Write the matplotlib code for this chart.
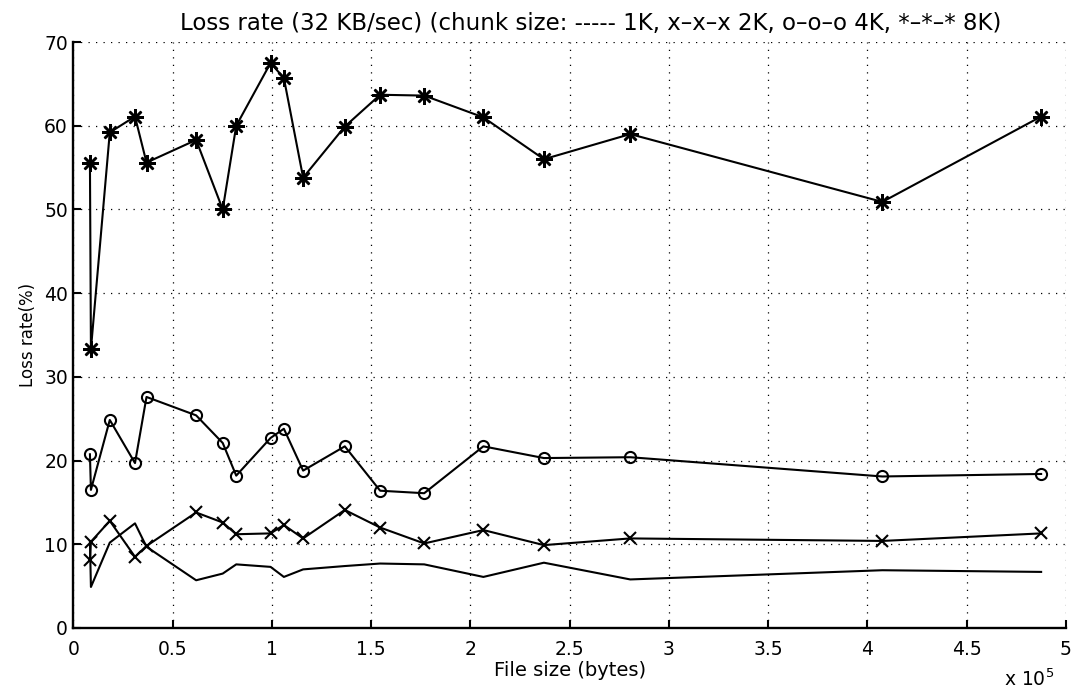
import matplotlib
matplotlib.use("Agg")
import matplotlib.pyplot as plt
from matplotlib.ticker import FixedLocator

plt.rcParams['font.family'] = ['DejaVu Sans']

# File sizes (bytes)
file_size = [8300, 8800, 18300, 31000, 36800, 61800, 75200, 82000, 99300, 106000,
             115700, 136700, 154500, 176700, 206500, 237000, 280500, 407500, 487500]

loss_1k = [10.3, 4.9, 10.2, 12.5, 9.7, 5.7, 6.5, 7.6, 7.3, 6.1,
           7.0, 7.4, 7.7, 7.6, 6.1, 7.8, 5.8, 6.9, 6.7]
loss_2k = [8.1, 10.3, 12.8, 8.5, 9.8, 13.8, 12.6, 11.2, 11.3, 12.3,
           10.7, 14.1, 12.0, 10.1, 11.7, 9.9, 10.7, 10.4, 11.3]
loss_4k = [20.75, 16.5, 24.85, 19.7, 27.6, 25.4, 22.1, 18.2, 22.7, 23.8,
           18.8, 21.7, 16.4, 16.1, 21.7, 20.3, 20.4, 18.1, 18.4]
loss_8k = [55.6, 33.3, 59.2, 61.1, 55.6, 58.3, 50.0, 60.0, 67.5, 65.7,
           53.8, 59.9, 63.7, 63.6, 61.0, 56.0, 59.0, 50.9, 61.1]

x_ticks = [0, 50000, 100000, 150000, 200000, 250000, 300000, 350000, 400000, 450000, 500000]
x_tick_labels = ['0', '0.5', '1', '1.5', '2', '2.5', '3', '3.5', '4', '4.5', '5']
y_ticks = [0, 10, 20, 30, 40, 50, 60, 70]

title = "Loss rate (32 KB/sec) (chunk size: ----- 1K, x\u2013x\u2013x 2K, o\u2013o\u2013o 4K, *\u2013*\u2013* 8K)"

fig = plt.figure(figsize=(10.74, 6.98), dpi=100)
ax = fig.add_axes([0.0684, 0.1003, 0.9241, 0.8395])

lw = 1.5
ax.plot(file_size, loss_1k, color='black', lw=lw)
ax.plot(file_size, loss_2k, color='black', lw=lw, marker='x', ms=9, mew=1.5)
ax.plot(file_size, loss_4k, color='black', lw=lw, marker='o', ms=8, mfc='none', mew=1.5)
ax.plot(file_size, loss_8k, color='black', lw=lw, marker=(8, 2, 0), ms=12, mew=1.8)

ax.set_xlim(0, 500000)
ax.set_ylim(0, 70)
ax.xaxis.set_major_locator(FixedLocator(x_ticks))
ax.set_xticklabels(x_tick_labels)
ax.yaxis.set_major_locator(FixedLocator(y_ticks))

ax.grid(True, color='black', linestyle=(0, (1, 5)), linewidth=0.9)
ax.tick_params(direction='in', length=6, width=1.5, labelsize=13.5)
ax.tick_params(axis='x', pad=9)
ax.tick_params(axis='y', pad=4)
for s in ['top', 'right']:
    ax.spines[s].set_visible(False)
for s in ['left', 'bottom']:
    ax.spines[s].set_linewidth(1.7)

ax.text(0.521, 1.0, title, transform=ax.transAxes, ha='center', va='bottom',
        fontsize=16.5, transform_rotates_text=False).set_y(1.012)
ax.set_xlabel('File size (bytes)', fontsize=14, labelpad=1)
ax.set_ylabel('Loss rate(%)', fontsize=12, labelpad=5)
fig.text(0.982, 0.012, r'x 10$^5$', ha='right', va='bottom', fontsize=13.5)

fig.savefig('out.png', dpi=100)
